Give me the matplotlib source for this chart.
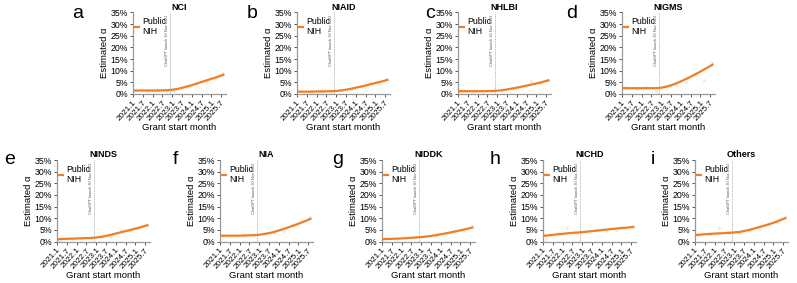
import matplotlib
matplotlib.use("Agg")
import matplotlib.pyplot as plt
import numpy as np

plt.rcParams['font.family'] = ['Liberation Sans', 'DejaVu Sans']

# ---------------- data ----------------
letters = ["a", "b", "c", "d", "e", "f", "g", "h", "i"]
institutes = ["NCI", "NIAID", "NHLBI", "NIGMS", "NINDS", "NIA", "NIDDK", "NICHD", "Others"]

# months since Jan 2021 at which the fitted curve is read
fit_months = [0, 4, 8, 12, 16, 20, 24, 28, 32, 36, 40, 44, 48, 52, 56]
fit_NCI    = [1.5, 1.5, 1.5, 1.5, 1.5, 1.6, 1.8, 2.3, 3.0, 3.8, 4.7, 5.6, 6.5, 7.4, 8.4]
fit_NIAID  = [1.0, 1.0, 1.0, 1.1, 1.1, 1.2, 1.3, 1.6, 2.1, 2.7, 3.3, 4.0, 4.7, 5.4, 6.2]
fit_NHLBI  = [1.2, 1.2, 1.2, 1.2, 1.2, 1.3, 1.4, 1.7, 2.2, 2.7, 3.3, 3.9, 4.5, 5.2, 6.0]
fit_NIGMS  = [2.5, 2.5, 2.5, 2.5, 2.5, 2.5, 2.7, 3.3, 4.2, 5.4, 6.7, 8.1, 9.6, 11.2, 12.8]
fit_NINDS  = [1.0, 1.1, 1.2, 1.3, 1.4, 1.5, 1.7, 2.1, 2.7, 3.4, 4.1, 4.8, 5.5, 6.3, 7.1]
fit_NIA    = [2.5, 2.5, 2.5, 2.5, 2.6, 2.7, 2.9, 3.3, 3.9, 4.7, 5.6, 6.6, 7.6, 8.7, 9.9]
fit_NIDDK  = [1.0, 1.1, 1.2, 1.3, 1.5, 1.7, 1.9, 2.2, 2.6, 3.1, 3.6, 4.2, 4.8, 5.4, 6.1]
fit_NICHD  = [2.4, 2.7, 3.0, 3.3, 3.6, 3.8, 4.0, 4.3, 4.6, 4.9, 5.2, 5.5, 5.8, 6.0, 6.3]
fit_Others = [2.8, 3.0, 3.2, 3.4, 3.5, 3.7, 3.9, 4.2, 4.8, 5.5, 6.3, 7.1, 8.0, 9.1, 10.2]
fits = [fit_NCI, fit_NIAID, fit_NHLBI, fit_NIGMS, fit_NINDS, fit_NIA, fit_NIDDK, fit_NICHD, fit_Others]

# faint monthly estimates (a few visible points)
obs_months = [2, 9, 15, 21, 27, 33, 39, 45, 50, 55]
obs_NCI    = [1.8, 1.3, 1.6, 1.2, 2.0, 3.2, 4.5, 5.2, 6.8, 8.9]
obs_NIAID  = [1.2, 0.9, 1.3, 1.0, 1.8, 2.2, 3.5, 4.8, 4.5, 6.5]
obs_NHLBI  = [1.4, 1.0, 1.3, 1.1, 1.5, 2.4, 3.0, 5.5, 4.8, 6.2]
obs_NIGMS  = [3.2, 2.0, 2.9, 1.5, 3.0, 3.9, 5.0, 8.0, 6.0, 13.5]
obs_NINDS  = [0.8, 1.2, 1.5, 1.3, 1.8, 1.9, 4.4, 5.0, 6.0, 7.0]
obs_NIA    = [2.2, 2.8, 2.3, 2.6, 3.8, 3.5, 4.5, 7.0, 9.0, 10.5]
obs_NIDDK  = [1.3, 0.9, 1.6, 1.8, 2.3, 2.5, 3.8, 4.0, 4.5, 6.5]
obs_NICHD  = [1.0, 3.5, 6.0, 3.3, 4.5, 4.8, 4.4, 5.0, 5.6, 6.8]
obs_Others = [2.5, 3.2, 5.8, 3.5, 3.6, 4.5, 5.5, 7.5, 8.5, 10.5]
obs = [obs_NCI, obs_NIAID, obs_NHLBI, obs_NIGMS, obs_NINDS, obs_NIA, obs_NIDDK, obs_NICHD, obs_Others]

tick_months = [0, 6, 12, 18, 24, 30, 36, 42, 48, 54]
tick_labels = ["2021.1", "2021.7", "2022.1", "2022.7", "2023.1",
               "2023.7", "2024.1", "2024.7", "2025.1", "2025.7"]
y_ticks = [0, 5, 10, 15, 20, 25, 30, 35]
chatgpt_month = 22.97

# ---------------- layout (pixels) ----------------
W, H = 797, 283
fig = plt.figure(figsize=(W / 100, H / 100), dpi=100)

spine_x = [133, 297, 458, 622, 57, 220, 382, 543, 695]
top_y = [12.5, 12.5, 12.5, 12.5, 160, 160, 160, 160, 160]
ax_w, ax_h = 93, 81.5
letter_xy = [(78, 14), (252, 14), (430, 14), (572, 14),
             (10, 160), (175, 160), (338, 160), (495, 160), (653, 160)]

orange = "#EE7F26"

for k in range(9):
    x0, y0 = spine_x[k], top_y[k]
    ax = fig.add_axes([x0 / W, 1 - (y0 + ax_h) / H, ax_w / W, ax_h / H])
    ax.scatter(obs_months, obs[k], s=5, color=orange, alpha=0.18, lw=0, zorder=2)
    ax.plot(fit_months, fits[k], color=orange, lw=1.6, zorder=3, label="Public\nNIH",
            solid_capstyle="butt")
    ax.axvline(chatgpt_month, color="#b0b0b0", lw=0.7, ls=(0, (1, 1)), zorder=1)
    ax.text(chatgpt_month - 0.6, 34.0, "ChatGPT launch 30 Nov 2022", rotation=90,
            fontsize=2.8, ha="right", va="top", color="#555555")
    ax.set_xlim(0, 57)
    ax.set_ylim(0, 35)
    ax.set_xticks(tick_months)
    ax.set_xticklabels(tick_labels, rotation=48, ha="right", rotation_mode="anchor",
                       fontsize=5.9)
    ax.set_yticks(y_ticks)
    ax.set_yticklabels([f"{v}%" for v in y_ticks], fontsize=6.3)
    ax.tick_params(length=2.5, width=0.7, pad=1.2, color="#555555")
    for s in ["top", "right"]:
        ax.spines[s].set_visible(False)
    for s in ["left", "bottom"]:
        ax.spines[s].set_color("#999999")
        ax.spines[s].set_linewidth(0.9)
    ax.set_xlabel("Grant start month", fontsize=6.8, labelpad=0.5)
    ax.set_ylabel("Estimated α", fontsize=6.8, labelpad=1)
    ax.set_title(institutes[k], fontsize=6.5, fontweight="bold", pad=2)
    ax.legend(loc="upper left", bbox_to_anchor=(0.0, 0.96), frameon=False,
              fontsize=6.3, handlelength=0.6, handletextpad=0.35,
              borderaxespad=0.0, borderpad=0.15, labelspacing=0.15)
    fig.text(letter_xy[k][0] / W, 1 - letter_xy[k][1] / H, letters[k],
             fontsize=14, ha="center", va="center")

fig.savefig("out.png", dpi=100)
